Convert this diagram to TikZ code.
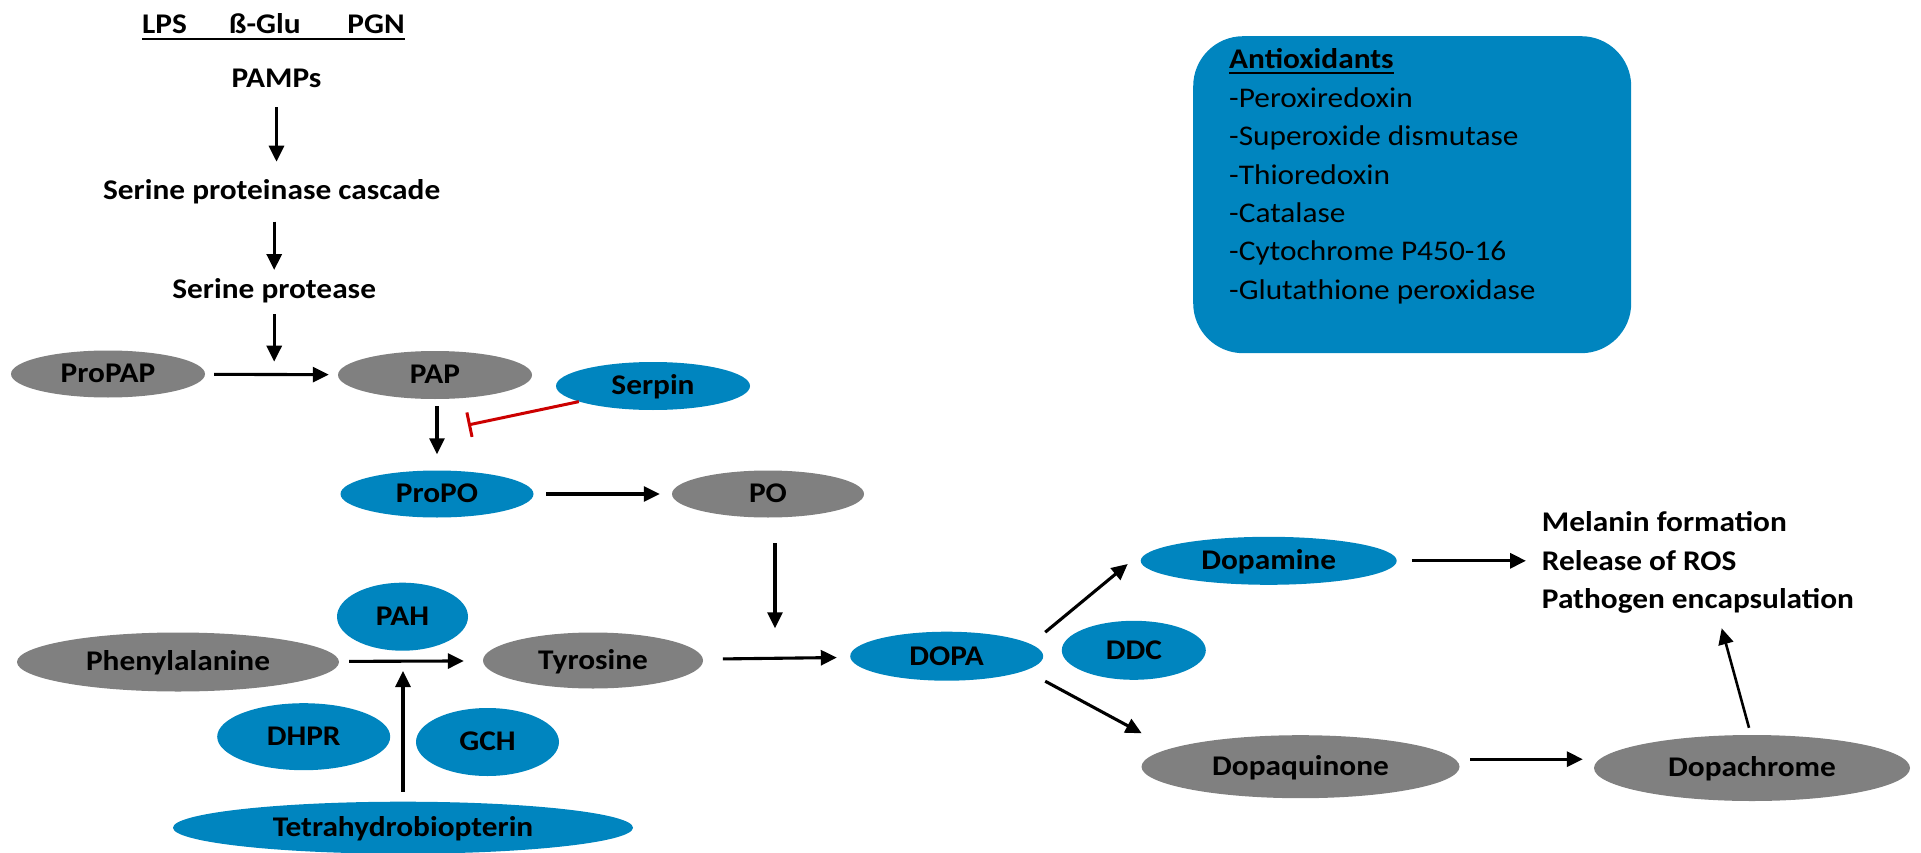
\documentclass[tikz,border=0pt]{standalone}
\usepackage{fontspec}
\setmainfont{Carlito}[FakeStretch=1.1]
\usetikzlibrary{shapes.geometric,arrows.meta}
\definecolor{nblue}{RGB}{0,133,191}
\definecolor{ngray}{RGB}{128,128,128}
\definecolor{nred}{RGB}{204,0,0}
\begin{document}
\begin{tikzpicture}[x=1pt,y=-1pt,
  every node/.style={font=\fontsize{28.5}{34}\selectfont\bfseries, inner sep=0pt, text=black},
  ellbase/.style={ellipse, text height=17.9pt, text depth=0pt},
  blueell/.style={ellbase, fill=nblue},
  grayell/.style={ellbase, fill=ngray},
  itemtext/.style={anchor=base west, font=\fontsize{28.5}{34}\selectfont\mdseries},
  plain/.style={anchor=base},
  arr/.style={line width=3.1pt, -{Triangle[length=16pt,width=15pt]}},
  inh/.style={line width=3pt, draw=nred, -{Bar[width=25pt,line width=3pt]}},
  uline/.style={line width=2pt}
]
\useasboundingbox (0,0) rectangle (1921,853);

% antioxidant box
\node[fill=nblue, rounded corners=50pt, minimum width=438pt, minimum height=317pt, anchor=north west] (abox) at (1193,36) {};
\node[anchor=base west] (anti) at (1229,69) {Antioxidants};
\draw[uline] ([yshift=-3.8pt]anti.base west) -- ([yshift=-3.8pt]anti.base east);
\node[itemtext] (ox1) at (1229,107.3) {-Peroxiredoxin};
\node[itemtext] (ox2) at (1229,146) {-Superoxide dismutase};
\node[itemtext] (ox3) at (1229,184.3) {-Thioredoxin};
\node[itemtext] (ox4) at (1229,222.7) {-Catalase};
\node[itemtext] (ox5) at (1229,260.7) {-Cytochrome P450-16};
\node[itemtext] (ox6) at (1229,299.3) {-Glutathione peroxidase};

% header
\node[anchor=base west] (lps) at (142,33.3) {LPS};
\node[anchor=base west] (glu) at (229,33.3) {ß-Glu};
\node[anchor=base east] (pgn) at (405,33.3) {PGN};
\draw[uline] ([yshift=-5.9pt]lps.base west) -- ([yshift=-5.9pt]pgn.base east);
\node[plain] (pamps) at (276.5,87.3) {PAMPs};
\node[plain] (casc) at (271.7,200) {Serine proteinase cascade};
\node[plain] (sprot) at (274.2,298.3) {Serine protease};

% ellipses
\node[grayell, minimum width=194pt, minimum height=47pt] (propap) at (108,374) {ProPAP};
\node[grayell, minimum width=194pt, minimum height=48pt] (pap) at (435,375) {PAP};
\node[blueell, minimum width=194pt, minimum height=48pt] (serpin) at (653,386) {Serpin};
\node[blueell, minimum width=193pt, minimum height=47pt] (propo) at (437,494) {ProPO};
\node[grayell, minimum width=192pt, minimum height=47pt] (po) at (768,494) {PO};
\node[blueell, minimum width=131pt, minimum height=68pt] (pah) at (402.5,616.7) {PAH};
\node[grayell, minimum width=322pt, minimum height=59pt] (phe) at (178,662) {Phenylalanine};
\node[grayell, minimum width=220pt, minimum height=56pt] (tyr) at (593,660.5) {Tyrosine};
\node[blueell, minimum width=193pt, minimum height=49pt] (dopa) at (946.7,656.2) {DOPA};
\node[blueell, minimum width=144pt, minimum height=59pt] (ddc) at (1133.8,650.3) {DDC};
\node[blueell, minimum width=173pt, minimum height=67pt] (dhpr) at (303.7,736.7) {DHPR};
\node[blueell, minimum width=143pt, minimum height=68pt] (gch) at (487.5,742) {GCH};
\node[blueell, minimum width=460pt, minimum height=52pt] (tetra) at (403,827.7) {Tetrahydrobiopterin};
\node[blueell, minimum width=256pt, minimum height=48pt] (dopamine) at (1268.7,560.8) {Dopamine};
\node[grayell, minimum width=318pt, minimum height=63pt] (dquin) at (1300.5,766.7) {Dopaquinone};
\node[grayell, minimum width=316pt, minimum height=66pt] (dchrome) at (1752,768) {Dopachrome};

% outcome text
\node[anchor=base west] (out1) at (1541.7,531.7) {Melanin formation};
\node[anchor=base west] (out2) at (1541.7,570) {Release of ROS};
\node[anchor=base west] (out3) at (1541.7,608.3) {Pathogen encapsulation};

% free ends
\coordinate (j1) at (274.2,361.7);
\coordinate (j2) at (468,425);
\coordinate (j3) at (775,628.3);
\coordinate (j4) at (403,671);
\coordinate (j5) at (1721.7,628.3);

% connectors
\draw[arr, shorten <=20pt, shorten >=38.3pt] (pamps.base) -- (pamps.base |- casc.base);
\draw[arr, shorten <=21.7pt, shorten >=28.3pt] (sprot.base |- casc.base) -- (sprot.base);
\draw[arr, shorten <=15.7pt] (sprot.base) -- (j1);
\draw[arr, shorten <=9pt, shorten >=9pt] (propap) -- (pap);
\draw[arr, shorten <=7pt, shorten >=16pt] (pap.south -| propo) -- (propo.north);
\draw[inh] (serpin) -- (j2);
\draw[arr, shorten <=12.5pt, shorten >=12pt] (propo) -- (po);
\draw[arr, shorten <=25.5pt] (po.south -| j3) -- (j3);
\draw[arr, shorten <=10pt, shorten >=19pt] (phe) -- (tyr);
\draw[arr, shorten <=10pt] (tetra.north) -- (j4);
\draw[arr, shorten <=19.7pt, shorten >=13.3pt] (tyr) -- (dopa);
\draw[arr] ([shift={(98.5,-24)}]dopa.center) -- ([shift={(-141,3.2)}]dopamine.center);
\draw[arr] ([shift={(98.5,25)}]dopa.center) -- ([shift={(-158.8,-33.4)}]dquin.center);
\draw[arr, shorten <=15pt, shorten >=15.7pt] (dopamine.east) -- (dopamine.east -| out2.west);
\draw[arr, shorten <=10.5pt, shorten >=11pt] ([yshift=7.5pt]dquin.east) -- ([yshift=7.5pt]dquin.east -| dchrome.west);
\draw[arr, line width=2.6pt] ([shift={(-3,-7)}]dchrome.north) -- (j5);
\end{tikzpicture}
\end{document}
